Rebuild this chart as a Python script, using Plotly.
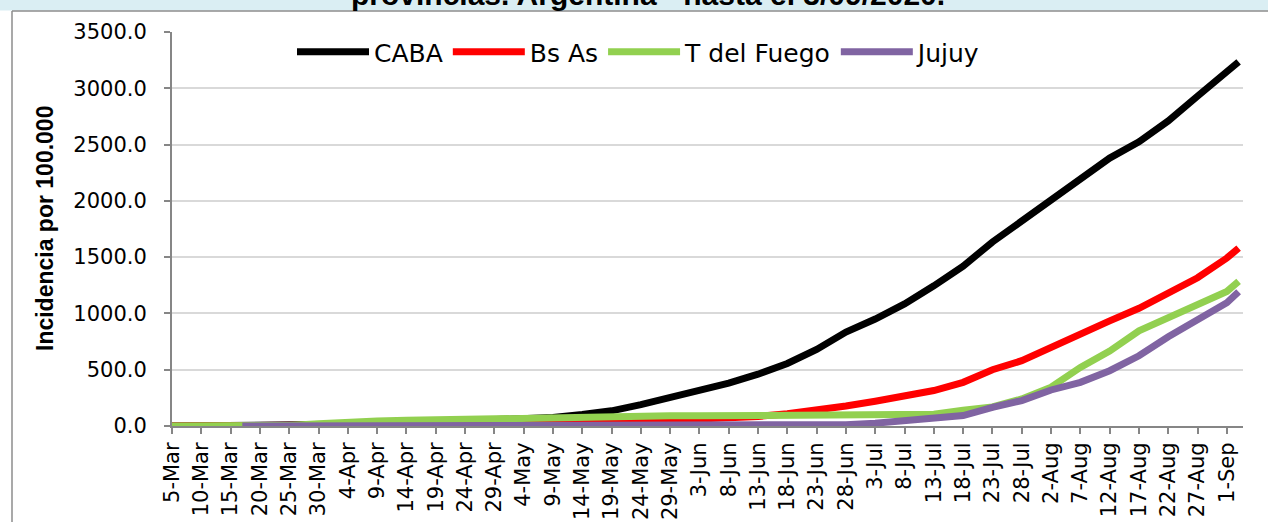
import plotly.graph_objects as go

# ---- data ----
dates = ["2020-03-05", "2020-03-10", "2020-03-15", "2020-03-17", "2020-03-20", "2020-03-25",
         "2020-03-30", "2020-04-04", "2020-04-09", "2020-04-14", "2020-04-19", "2020-04-24",
         "2020-04-29", "2020-05-04", "2020-05-09", "2020-05-14", "2020-05-19", "2020-05-24",
         "2020-05-29", "2020-06-03", "2020-06-08", "2020-06-13", "2020-06-18", "2020-06-23",
         "2020-06-28", "2020-07-03", "2020-07-08", "2020-07-13", "2020-07-18", "2020-07-23",
         "2020-07-28", "2020-08-02", "2020-08-07", "2020-08-12", "2020-08-17", "2020-08-22",
         "2020-08-27", "2020-09-01", "2020-09-03"]

caba = [0, 0, 1, 1, 3, 6, 10, 15, 20, 27, 35, 45, 55, 62, 75, 102, 135, 190, 255, 310,
        380, 460, 555, 680, 835, 950, 1085, 1245, 1420, 1635, 1825, 2000, 2200, 2380,
        2525, 2710, 2930, 3135, 3235]

bs_as = [0, 0, 0, 0, 0, 1, 2, 3, 5, 7, 9, 11, 14, 18, 22, 28, 35, 42, 52, 62,
         72, 85, 108, 140, 178, 220, 260, 315, 388, 500, 580, 697, 830, 934,
         1046, 1184, 1317, 1492, 1580]

t_fuego = [0, 0, 0, 0, 2, 5, 20, 38, 45, 50, 56, 62, 68, 73, 78, 82, 85, 88, 90, 90,
           90, 91, 91, 92, 93, 93, 94, 105, 140, 170, 240, 345, 520, 665, 845, 957,
           1075, 1195, 1285]

jujuy = [None, None, None, 0, 0, 0, 0, 0, 0, 0, 0, 0, 0, 0, 0, 0, 0, 0, 0, 0,
         0, 1, 2, 5, 12, 25, 43, 60, 93, 166, 226, 320, 388, 491, 624, 792,
         940, 1095, 1192]

series_names = ["CABA", "Bs As", "T del Fuego", "Jujuy"]
series_values = [caba, bs_as, t_fuego, jujuy]
series_colors = ["#000000", "#FF0000", "#92D050", "#8064A2"]

tick_dates = ["2020-03-05", "2020-03-10", "2020-03-15", "2020-03-20", "2020-03-25", "2020-03-30",
              "2020-04-04", "2020-04-09", "2020-04-14", "2020-04-19", "2020-04-24", "2020-04-29",
              "2020-05-04", "2020-05-09", "2020-05-14", "2020-05-19", "2020-05-24", "2020-05-29",
              "2020-06-03", "2020-06-08", "2020-06-13", "2020-06-18", "2020-06-23", "2020-06-28",
              "2020-07-03", "2020-07-08", "2020-07-13", "2020-07-18", "2020-07-23", "2020-07-28",
              "2020-08-02", "2020-08-07", "2020-08-12", "2020-08-17", "2020-08-22", "2020-08-27",
              "2020-09-01"]
tick_labels = ["5-Mar", "10-Mar", "15-Mar", "20-Mar", "25-Mar", "30-Mar",
               "4-Apr", "9-Apr", "14-Apr", "19-Apr", "24-Apr", "29-Apr",
               "4-May", "9-May", "14-May", "19-May", "24-May", "29-May",
               "3-Jun", "8-Jun", "13-Jun", "18-Jun", "23-Jun", "28-Jun",
               "3-Jul", "8-Jul", "13-Jul", "18-Jul", "23-Jul", "28-Jul",
               "2-Aug", "7-Aug", "12-Aug", "17-Aug", "22-Aug", "27-Aug",
               "1-Sep"]

title_text = "provincias. Argentina - hasta el 3/09/2020."
y_title = "Incidencia por 100.000"

# ---- layout geometry (pixels) ----
WIDTH, HEIGHT = 1268, 522
L, R, T, B = 172, 1243, 32, 426
PW, PH = R - L, B - T


def px_x(p):
    return (p - L) / PW


def px_y(p):
    return (B - p) / PH


fig = go.Figure()
for name, vals, col in zip(series_names, series_values, series_colors):
    fig.add_trace(go.Scatter(
        x=dates, y=vals, name=name, mode="lines",
        line=dict(color=col, width=7),
        connectgaps=False,
    ))

fig.update_layout(
    width=WIDTH, height=HEIGHT,
    margin=dict(l=L, r=WIDTH - R, t=T, b=HEIGHT - B, autoexpand=False),
    paper_bgcolor="white", plot_bgcolor="white",
    showlegend=True,
    legend=dict(
        orientation="h", x=px_x(292), y=px_y(29), xanchor="left", yanchor="top",
        font=dict(family="DejaVu Sans", size=25, color="black"),
        bgcolor="rgba(0,0,0,0)", itemwidth=72, tracegroupgap=0,
    ),
    xaxis=dict(
        type="date",
        range=["2020-03-05", "2020-09-03 18:00"],
        tickmode="array", tickvals=tick_dates, ticktext=tick_labels,
        tickangle=-90,
        tickfont=dict(family="DejaVu Sans", size=21, color="black"),
        ticks="outside", ticklen=6, tickwidth=2, tickcolor="#868686",
        showline=True, linecolor="#868686", linewidth=2,
        showgrid=False, zeroline=False,
        layer="below traces",
    ),
    yaxis=dict(
        range=[0, 3500], tickmode="linear", tick0=0, dtick=500,
        tickformat=".1f",
        tickfont=dict(family="DejaVu Sans", size=21, color="black"),
        ticks="outside", ticklen=6, tickwidth=2, tickcolor="#868686",
        ticklabelstandoff=13,
        showline=True, linecolor="#868686", linewidth=2,
        showgrid=True, gridcolor="#D9D9D9", gridwidth=2,
        zeroline=False,
        layer="below traces",
    ),
    shapes=[
        # light blue title band at the very top
        dict(type="rect", xref="paper", yref="paper",
             x0=px_x(0), x1=px_x(WIDTH), y0=px_y(10.5), y1=px_y(0),
             fillcolor="#DAEEF3", line=dict(width=0), layer="below"),
        # chart area border (top and left)
        dict(type="line", xref="paper", yref="paper",
             x0=px_x(12), x1=px_x(WIDTH), y0=px_y(11), y1=px_y(11),
             line=dict(color="#8C8C8C", width=1.5), layer="below"),
        dict(type="line", xref="paper", yref="paper",
             x0=px_x(12), x1=px_x(12), y0=px_y(11), y1=px_y(HEIGHT),
             line=dict(color="#8C8C8C", width=1.5), layer="below"),
    ],
    annotations=[
        dict(text="<b>" + title_text + "</b>", xref="paper", yref="paper",
             x=px_x(648), y=px_y(13), xanchor="center", yanchor="bottom",
             showarrow=False,
             font=dict(family="Liberation Sans, Arial", size=30, color="black")),
        dict(text="<b>" + y_title + "</b>", xref="paper", yref="paper",
             x=px_x(45), y=px_y(229), xanchor="center", yanchor="middle",
             textangle=-90, showarrow=False,
             font=dict(family="Liberation Sans, Arial", size=23, color="black")),
    ],
)

fig.write_html("out.html", config={"displayModeBar": False},
               post_script="document.body.style.margin='0';")
